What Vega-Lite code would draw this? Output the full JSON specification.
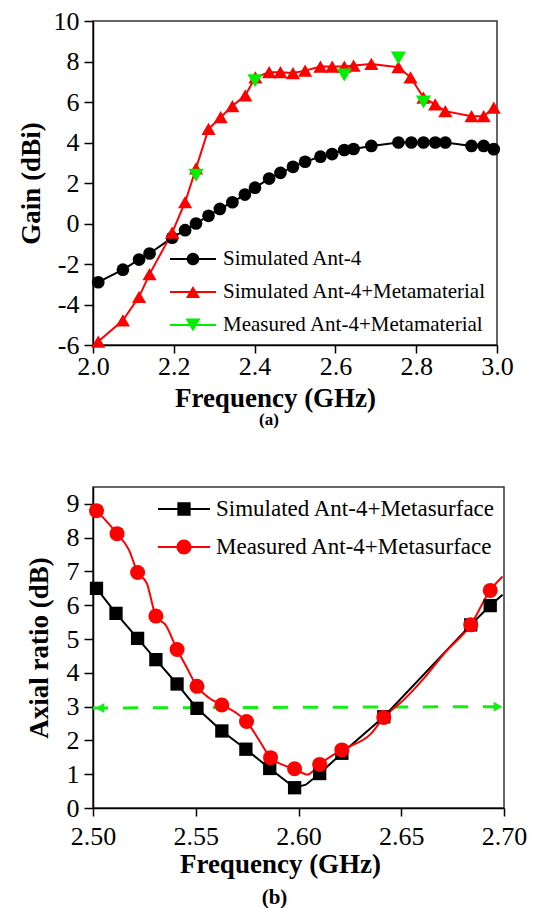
{
  "$schema": "https://vega.github.io/schema/vega-lite/v6.json",
  "background": "white",
  "padding": {"left": 16, "top": 7, "right": 4, "bottom": 4},
  "bounds": "flush",
  "spacing": 142,
  "resolve": {
    "scale": {"color": "independent", "shape": "independent"},
    "legend": {"color": "independent", "shape": "independent"}
  },
  "config": {
    "font": "Times New Roman, Liberation Serif, serif",
    "view": {"stroke": "#333333", "strokeWidth": 1.5},
    "axis": {
      "grid": false,
      "domainColor": "#000000",
      "domainWidth": 1.5,
      "tickColor": "#000000",
      "tickWidth": 1.5,
      "tickSize": 8,
      "labelFontSize": 26,
      "labelColor": "#000000",
      "labelFlush": false,
      "labelOverlap": false,
      "labelBound": false,
      "titleFontSize": 27,
      "titleFontWeight": "bold",
      "titleColor": "#000000"
    },
    "legend": {"labelFont": "Times New Roman, Liberation Serif, serif"},
    "title": {"font": "Times New Roman, Liberation Serif, serif"}
  },
  "datasets": {
    "gain": [
      {"series": "Simulated Ant-4", "f": 2.013, "gain": -2.90},
      {"series": "Simulated Ant-4", "f": 2.074, "gain": -2.28},
      {"series": "Simulated Ant-4", "f": 2.114, "gain": -1.78},
      {"series": "Simulated Ant-4", "f": 2.140, "gain": -1.48},
      {"series": "Simulated Ant-4", "f": 2.196, "gain": -0.70},
      {"series": "Simulated Ant-4", "f": 2.228, "gain": -0.33},
      {"series": "Simulated Ant-4", "f": 2.255, "gain": 0.00},
      {"series": "Simulated Ant-4", "f": 2.286, "gain": 0.38},
      {"series": "Simulated Ant-4", "f": 2.314, "gain": 0.72},
      {"series": "Simulated Ant-4", "f": 2.345, "gain": 1.05},
      {"series": "Simulated Ant-4", "f": 2.376, "gain": 1.43},
      {"series": "Simulated Ant-4", "f": 2.401, "gain": 1.77},
      {"series": "Simulated Ant-4", "f": 2.436, "gain": 2.22},
      {"series": "Simulated Ant-4", "f": 2.464, "gain": 2.50},
      {"series": "Simulated Ant-4", "f": 2.495, "gain": 2.80},
      {"series": "Simulated Ant-4", "f": 2.525, "gain": 3.05},
      {"series": "Simulated Ant-4", "f": 2.563, "gain": 3.30},
      {"series": "Simulated Ant-4", "f": 2.592, "gain": 3.43},
      {"series": "Simulated Ant-4", "f": 2.622, "gain": 3.63},
      {"series": "Simulated Ant-4", "f": 2.645, "gain": 3.68},
      {"series": "Simulated Ant-4", "f": 2.689, "gain": 3.83},
      {"series": "Simulated Ant-4", "f": 2.756, "gain": 4.00},
      {"series": "Simulated Ant-4", "f": 2.788, "gain": 4.00},
      {"series": "Simulated Ant-4", "f": 2.818, "gain": 4.00},
      {"series": "Simulated Ant-4", "f": 2.847, "gain": 4.00},
      {"series": "Simulated Ant-4", "f": 2.872, "gain": 4.00},
      {"series": "Simulated Ant-4", "f": 2.937, "gain": 3.83},
      {"series": "Simulated Ant-4", "f": 2.967, "gain": 3.83},
      {"series": "Simulated Ant-4", "f": 2.992, "gain": 3.67},
      {"series": "Simulated Ant-4+Metamaterial", "f": 2.013, "gain": -5.83},
      {"series": "Simulated Ant-4+Metamaterial", "f": 2.074, "gain": -4.78},
      {"series": "Simulated Ant-4+Metamaterial", "f": 2.114, "gain": -3.62},
      {"series": "Simulated Ant-4+Metamaterial", "f": 2.140, "gain": -2.50},
      {"series": "Simulated Ant-4+Metamaterial", "f": 2.196, "gain": -0.45},
      {"series": "Simulated Ant-4+Metamaterial", "f": 2.228, "gain": 1.05},
      {"series": "Simulated Ant-4+Metamaterial", "f": 2.255, "gain": 2.72},
      {"series": "Simulated Ant-4+Metamaterial", "f": 2.286, "gain": 4.67},
      {"series": "Simulated Ant-4+Metamaterial", "f": 2.316, "gain": 5.25},
      {"series": "Simulated Ant-4+Metamaterial", "f": 2.345, "gain": 5.80},
      {"series": "Simulated Ant-4+Metamaterial", "f": 2.377, "gain": 6.33},
      {"series": "Simulated Ant-4+Metamaterial", "f": 2.402, "gain": 7.22},
      {"series": "Simulated Ant-4+Metamaterial", "f": 2.436, "gain": 7.47},
      {"series": "Simulated Ant-4+Metamaterial", "f": 2.464, "gain": 7.47},
      {"series": "Simulated Ant-4+Metamaterial", "f": 2.495, "gain": 7.43},
      {"series": "Simulated Ant-4+Metamaterial", "f": 2.525, "gain": 7.55},
      {"series": "Simulated Ant-4+Metamaterial", "f": 2.563, "gain": 7.75},
      {"series": "Simulated Ant-4+Metamaterial", "f": 2.592, "gain": 7.75},
      {"series": "Simulated Ant-4+Metamaterial", "f": 2.622, "gain": 7.75},
      {"series": "Simulated Ant-4+Metamaterial", "f": 2.645, "gain": 7.80},
      {"series": "Simulated Ant-4+Metamaterial", "f": 2.689, "gain": 7.88},
      {"series": "Simulated Ant-4+Metamaterial", "f": 2.756, "gain": 7.72},
      {"series": "Simulated Ant-4+Metamaterial", "f": 2.786, "gain": 7.22},
      {"series": "Simulated Ant-4+Metamaterial", "f": 2.818, "gain": 6.22},
      {"series": "Simulated Ant-4+Metamaterial", "f": 2.847, "gain": 5.88},
      {"series": "Simulated Ant-4+Metamaterial", "f": 2.872, "gain": 5.55},
      {"series": "Simulated Ant-4+Metamaterial", "f": 2.937, "gain": 5.30},
      {"series": "Simulated Ant-4+Metamaterial", "f": 2.967, "gain": 5.30},
      {"series": "Simulated Ant-4+Metamaterial", "f": 2.992, "gain": 5.72},
      {"series": "Measured Ant-4+Metamaterial", "f": 2.255, "gain": 2.38},
      {"series": "Measured Ant-4+Metamaterial", "f": 2.401, "gain": 7.05},
      {"series": "Measured Ant-4+Metamaterial", "f": 2.622, "gain": 7.33},
      {"series": "Measured Ant-4+Metamaterial", "f": 2.756, "gain": 8.17},
      {"series": "Measured Ant-4+Metamaterial", "f": 2.818, "gain": 6.00}
    ],
    "ar_curve": [
      {"series": "Simulated Ant-4+Metasurface", "f": 2.5017, "ar": 6.50},
      {"series": "Simulated Ant-4+Metasurface", "f": 2.5112, "ar": 5.76},
      {"series": "Simulated Ant-4+Metasurface", "f": 2.5217, "ar": 5.02},
      {"series": "Simulated Ant-4+Metasurface", "f": 2.5306, "ar": 4.39},
      {"series": "Simulated Ant-4+Metasurface", "f": 2.5409, "ar": 3.67},
      {"series": "Simulated Ant-4+Metasurface", "f": 2.5506, "ar": 2.95},
      {"series": "Simulated Ant-4+Metasurface", "f": 2.5627, "ar": 2.28},
      {"series": "Simulated Ant-4+Metasurface", "f": 2.5744, "ar": 1.74},
      {"series": "Simulated Ant-4+Metasurface", "f": 2.5860, "ar": 1.17},
      {"series": "Simulated Ant-4+Metasurface", "f": 2.5981, "ar": 0.60},
      {"series": "Simulated Ant-4+Metasurface", "f": 2.6036, "ar": 0.69},
      {"series": "Simulated Ant-4+Metasurface", "f": 2.6103, "ar": 1.02},
      {"series": "Simulated Ant-4+Metasurface", "f": 2.6211, "ar": 1.62},
      {"series": "Simulated Ant-4+Metasurface", "f": 2.6415, "ar": 2.70},
      {"series": "Simulated Ant-4+Metasurface", "f": 2.6838, "ar": 5.42},
      {"series": "Simulated Ant-4+Metasurface", "f": 2.6933, "ar": 5.99},
      {"series": "Simulated Ant-4+Metasurface", "f": 2.6993, "ar": 6.31},
      {"series": "Measured Ant-4+Metasurface", "f": 2.5017, "ar": 8.80},
      {"series": "Measured Ant-4+Metasurface", "f": 2.5117, "ar": 8.12},
      {"series": "Measured Ant-4+Metasurface", "f": 2.5175, "ar": 7.64},
      {"series": "Measured Ant-4+Metasurface", "f": 2.5217, "ar": 6.97},
      {"series": "Measured Ant-4+Metasurface", "f": 2.5262, "ar": 6.65},
      {"series": "Measured Ant-4+Metasurface", "f": 2.5306, "ar": 5.68},
      {"series": "Measured Ant-4+Metasurface", "f": 2.5355, "ar": 5.40},
      {"series": "Measured Ant-4+Metasurface", "f": 2.5409, "ar": 4.69},
      {"series": "Measured Ant-4+Metasurface", "f": 2.5451, "ar": 4.22},
      {"series": "Measured Ant-4+Metasurface", "f": 2.5506, "ar": 3.60},
      {"series": "Measured Ant-4+Metasurface", "f": 2.5560, "ar": 3.28},
      {"series": "Measured Ant-4+Metasurface", "f": 2.5627, "ar": 3.05},
      {"series": "Measured Ant-4+Metasurface", "f": 2.5693, "ar": 2.83},
      {"series": "Measured Ant-4+Metasurface", "f": 2.5747, "ar": 2.56},
      {"series": "Measured Ant-4+Metasurface", "f": 2.5810, "ar": 1.99},
      {"series": "Measured Ant-4+Metasurface", "f": 2.5864, "ar": 1.49},
      {"series": "Measured Ant-4+Metasurface", "f": 2.5927, "ar": 1.27},
      {"series": "Measured Ant-4+Metasurface", "f": 2.5981, "ar": 1.16},
      {"series": "Measured Ant-4+Metasurface", "f": 2.6044, "ar": 0.99},
      {"series": "Measured Ant-4+Metasurface", "f": 2.6103, "ar": 1.29},
      {"series": "Measured Ant-4+Metasurface", "f": 2.6161, "ar": 1.54},
      {"series": "Measured Ant-4+Metasurface", "f": 2.6211, "ar": 1.72},
      {"series": "Measured Ant-4+Metasurface", "f": 2.6353, "ar": 2.20},
      {"series": "Measured Ant-4+Metasurface", "f": 2.6415, "ar": 2.68},
      {"series": "Measured Ant-4+Metasurface", "f": 2.6512, "ar": 3.20},
      {"series": "Measured Ant-4+Metasurface", "f": 2.6612, "ar": 3.85},
      {"series": "Measured Ant-4+Metasurface", "f": 2.6713, "ar": 4.60},
      {"series": "Measured Ant-4+Metasurface", "f": 2.6838, "ar": 5.42},
      {"series": "Measured Ant-4+Metasurface", "f": 2.6933, "ar": 6.44},
      {"series": "Measured Ant-4+Metasurface", "f": 2.6993, "ar": 6.85}
    ],
    "ar_markers": [
      {"series": "Simulated Ant-4+Metasurface", "f": 2.5017, "ar": 6.50},
      {"series": "Simulated Ant-4+Metasurface", "f": 2.5112, "ar": 5.76},
      {"series": "Simulated Ant-4+Metasurface", "f": 2.5217, "ar": 5.02},
      {"series": "Simulated Ant-4+Metasurface", "f": 2.5306, "ar": 4.39},
      {"series": "Simulated Ant-4+Metasurface", "f": 2.5409, "ar": 3.67},
      {"series": "Simulated Ant-4+Metasurface", "f": 2.5506, "ar": 2.95},
      {"series": "Simulated Ant-4+Metasurface", "f": 2.5627, "ar": 2.28},
      {"series": "Simulated Ant-4+Metasurface", "f": 2.5744, "ar": 1.74},
      {"series": "Simulated Ant-4+Metasurface", "f": 2.5860, "ar": 1.17},
      {"series": "Simulated Ant-4+Metasurface", "f": 2.5981, "ar": 0.60},
      {"series": "Simulated Ant-4+Metasurface", "f": 2.6103, "ar": 1.02},
      {"series": "Simulated Ant-4+Metasurface", "f": 2.6211, "ar": 1.62},
      {"series": "Simulated Ant-4+Metasurface", "f": 2.6415, "ar": 2.70},
      {"series": "Simulated Ant-4+Metasurface", "f": 2.6838, "ar": 5.42},
      {"series": "Simulated Ant-4+Metasurface", "f": 2.6933, "ar": 5.99},
      {"series": "Measured Ant-4+Metasurface", "f": 2.5017, "ar": 8.80},
      {"series": "Measured Ant-4+Metasurface", "f": 2.5117, "ar": 8.12},
      {"series": "Measured Ant-4+Metasurface", "f": 2.5217, "ar": 6.97},
      {"series": "Measured Ant-4+Metasurface", "f": 2.5306, "ar": 5.68},
      {"series": "Measured Ant-4+Metasurface", "f": 2.5409, "ar": 4.69},
      {"series": "Measured Ant-4+Metasurface", "f": 2.5506, "ar": 3.60},
      {"series": "Measured Ant-4+Metasurface", "f": 2.5627, "ar": 3.05},
      {"series": "Measured Ant-4+Metasurface", "f": 2.5747, "ar": 2.56},
      {"series": "Measured Ant-4+Metasurface", "f": 2.5864, "ar": 1.49},
      {"series": "Measured Ant-4+Metasurface", "f": 2.5981, "ar": 1.16},
      {"series": "Measured Ant-4+Metasurface", "f": 2.6103, "ar": 1.29},
      {"series": "Measured Ant-4+Metasurface", "f": 2.6211, "ar": 1.72},
      {"series": "Measured Ant-4+Metasurface", "f": 2.6415, "ar": 2.68},
      {"series": "Measured Ant-4+Metasurface", "f": 2.6838, "ar": 5.42},
      {"series": "Measured Ant-4+Metasurface", "f": 2.6933, "ar": 6.44}
    ],
    "ar_threshold": [
      {"end": "low", "f": 2.5, "ar": 2.96},
      {"end": "high", "f": 2.7, "ar": 3.0}
    ]
  },
  "vconcat": [
    {
      "width": 404,
      "height": 324,
      "title": {"text": "(a)", "orient": "bottom", "anchor": "middle", "dx": -26, "offset": 1, "font": "Times New Roman, Liberation Serif, serif", "fontSize": 17, "fontWeight": "bold", "color": "#000000"},
      "data": {"name": "gain"},
      "encoding": {
        "x": {"field": "f", "type": "quantitative",
              "scale": {"domain": [2.0, 3.0], "nice": false, "zero": false},
              "axis": {"title": "Frequency (GHz)", "values": [2.0, 2.2, 2.4, 2.6, 2.8, 3.0], "format": ".1f",
                       "labelFont": {"expr": "'Times New Roman, Liberation Serif, serif'"},
                       "titleFont": {"expr": "'Times New Roman, Liberation Serif, serif'"},
                       "labelPadding": 0, "titlePadding": 6, "titleX": 182}},
        "y": {"field": "gain", "type": "quantitative",
              "scale": {"domain": [-6, 10], "nice": false, "zero": false},
              "axis": {"title": "Gain (dBi)", "values": [-6, -4, -2, 0, 2, 4, 6, 8, 10], "labelExpr": "replace(datum.label, '−', '-')",
                       "labelFont": {"expr": "'Times New Roman, Liberation Serif, serif'"},
                       "titleFont": {"expr": "'Times New Roman, Liberation Serif, serif'"},
                       "tickSize": 9, "labelPadding": 5, "titlePadding": 8}}
      },
      "layer": [
        {
          "transform": [{"filter": "datum.series === 'Simulated Ant-4'"}],
          "mark": {"type": "line", "strokeWidth": 2, "color": "#000000"}
        },
        {
          "transform": [{"filter": "datum.series === 'Simulated Ant-4+Metamaterial'"}],
          "mark": {"type": "line", "strokeWidth": 2, "color": "#ff0000"}
        },
        {
          "transform": [{"filter": "datum.series === 'Simulated Ant-4'"}],
          "mark": {"type": "point", "shape": "circle", "filled": true, "opacity": 1, "color": "#000000", "size": 161}
        },
        {
          "transform": [{"filter": "datum.series === 'Simulated Ant-4+Metamaterial'"}],
          "mark": {"type": "point", "shape": "triangle-up", "filled": true, "opacity": 1, "color": "#ff0000", "size": 200}
        },
        {
          "transform": [{"filter": "datum.series === 'Measured Ant-4+Metamaterial'"}],
          "mark": {"type": "point", "shape": "triangle-down", "filled": true, "opacity": 1, "color": "#00ee00", "size": 225}
        },
        {
          "mark": {"type": "point", "filled": true, "opacity": 0, "size": 2116},
          "encoding": {
            "color": {"field": "series", "type": "nominal",
              "scale": {"domain": ["Simulated Ant-4", "Simulated Ant-4+Metamaterial", "Measured Ant-4+Metamaterial"], "range": ["#000000", "#ff0000", "#00ee00"]},
              "legend": {
                "title": null, "orient": "bottom-right", "offset": 10, "padding": 0,
                "labelFont": "Times New Roman, Liberation Serif, serif",
                "labelFontSize": 21, "labelColor": "#000000", "labelLimit": 400, "labelOffset": 7,
                "symbolSize": 2116, "symbolOpacity": 1, "symbolStrokeWidth": 0, "rowPadding": -8.5
              }},
            "shape": {"field": "series", "type": "nominal",
              "scale": {"domain": ["Simulated Ant-4", "Simulated Ant-4+Metamaterial", "Measured Ant-4+Metamaterial"],
                        "range": [
                          "M-1,-0.0435H1V0.0435H-1ZM0.274,0A0.274,0.274,0,1,1,-0.274,0A0.274,0.274,0,1,1,0.274,0Z",
                          "M-1,-0.0435H1V0.0435H-1ZM0,-0.265L0.307,0.265L-0.307,0.265Z",
                          "M-1,-0.0435H1V0.0435H-1ZM0,0.283L-0.326,-0.283L0.326,-0.283Z"
                        ]},
              "legend": {
                "title": null, "orient": "bottom-right", "offset": 10, "padding": 0,
                "labelFont": "Times New Roman, Liberation Serif, serif",
                "labelFontSize": 21, "labelColor": "#000000", "labelLimit": 400, "labelOffset": 7,
                "symbolSize": 2116, "symbolOpacity": 1, "symbolStrokeWidth": 0, "rowPadding": -8.5
              }}
          }
        }
      ]
    },
    {
      "width": 411,
      "height": 321,
      "title": {"text": "(b)", "orient": "bottom", "anchor": "middle", "dx": -24, "offset": 10, "font": "Times New Roman, Liberation Serif, serif", "fontSize": 21, "fontWeight": "bold", "color": "#000000"},
      "encoding": {
        "x": {"field": "f", "type": "quantitative",
              "scale": {"domain": [2.5, 2.7], "nice": false, "zero": false},
              "axis": {"title": "Frequency (GHz)", "values": [2.5, 2.55, 2.6, 2.65, 2.7], "format": ".2f",
                       "labelFont": {"expr": "'Times New Roman, Liberation Serif, serif'"},
                       "titleFont": {"expr": "'Times New Roman, Liberation Serif, serif'"},
                       "labelPadding": 7, "titlePadding": 2, "titleX": 187}},
        "y": {"field": "ar", "type": "quantitative",
              "scale": {"domain": [0, 9.5], "nice": false, "zero": false},
              "axis": {"title": "Axial ratio (dB)", "values": [0, 1, 2, 3, 4, 5, 6, 7, 8, 9], "format": "d",
                       "labelFont": {"expr": "'Times New Roman, Liberation Serif, serif'"},
                       "titleFont": {"expr": "'Times New Roman, Liberation Serif, serif'"},
                       "tickSize": 9, "labelPadding": 5, "titlePadding": 13}}
      },
      "layer": [
        {
          "data": {"name": "ar_threshold"},
          "mark": {"type": "line", "color": "#11ee11", "strokeWidth": 3, "strokeDash": [15, 15]}
        },
        {
          "data": {"name": "ar_threshold"},
          "transform": [{"filter": "datum.end === 'low'"}],
          "mark": {"type": "point", "shape": "triangle-left", "filled": true, "opacity": 1, "color": "#11ee11", "size": 100, "xOffset": 7}
        },
        {
          "data": {"name": "ar_threshold"},
          "transform": [{"filter": "datum.end === 'high'"}],
          "mark": {"type": "point", "shape": "triangle-right", "filled": true, "opacity": 1, "color": "#11ee11", "size": 100, "xOffset": -6}
        },
        {
          "data": {"name": "ar_curve"},
          "transform": [{"filter": "datum.series === 'Simulated Ant-4+Metasurface'"}],
          "mark": {"type": "line", "strokeWidth": 2, "color": "#000000"}
        },
        {
          "data": {"name": "ar_curve"},
          "transform": [{"filter": "datum.series === 'Measured Ant-4+Metasurface'"}],
          "mark": {"type": "line", "strokeWidth": 2, "color": "#ff0000", "interpolate": "monotone"}
        },
        {
          "data": {"name": "ar_markers"},
          "transform": [{"filter": "datum.series === 'Simulated Ant-4+Metasurface'"}],
          "mark": {"type": "point", "shape": "square", "filled": true, "opacity": 1, "color": "#000000", "size": 177}
        },
        {
          "data": {"name": "ar_markers"},
          "transform": [{"filter": "datum.series === 'Measured Ant-4+Metasurface'"}],
          "mark": {"type": "point", "shape": "circle", "filled": true, "opacity": 1, "color": "#ff0000", "size": 225}
        },
        {
          "data": {"name": "ar_markers"},
          "mark": {"type": "point", "filled": true, "opacity": 0, "size": 2704},
          "encoding": {
            "color": {"field": "series", "type": "nominal",
              "scale": {"domain": ["Simulated Ant-4+Metasurface", "Measured Ant-4+Metasurface"], "range": ["#000000", "#ff0000"]},
              "legend": {
                "title": null, "orient": "none", "legendX": 65, "legendY": -4, "padding": 0,
                "labelFont": "Times New Roman, Liberation Serif, serif",
                "labelFontSize": 23, "labelColor": "#000000", "labelLimit": 400, "labelOffset": 6,
                "symbolSize": 2704, "symbolOpacity": 1, "symbolStrokeWidth": 0, "rowPadding": -11
              }},
            "shape": {"field": "series", "type": "nominal",
              "scale": {"domain": ["Simulated Ant-4+Metasurface", "Measured Ant-4+Metasurface"],
                        "range": [
                          "M-1,-0.0385H1V0.0385H-1ZM-0.256,-0.256H0.256V0.256H-0.256Z",
                          "M-1,-0.0385H1V0.0385H-1ZM0.288,0A0.288,0.288,0,1,1,-0.288,0A0.288,0.288,0,1,1,0.288,0Z"
                        ]},
              "legend": {
                "title": null, "orient": "none", "legendX": 65, "legendY": -4, "padding": 0,
                "labelFont": "Times New Roman, Liberation Serif, serif",
                "labelFontSize": 23, "labelColor": "#000000", "labelLimit": 400, "labelOffset": 6,
                "symbolSize": 2704, "symbolOpacity": 1, "symbolStrokeWidth": 0, "rowPadding": -11
              }}
          }
        }
      ]
    }
  ]
}
